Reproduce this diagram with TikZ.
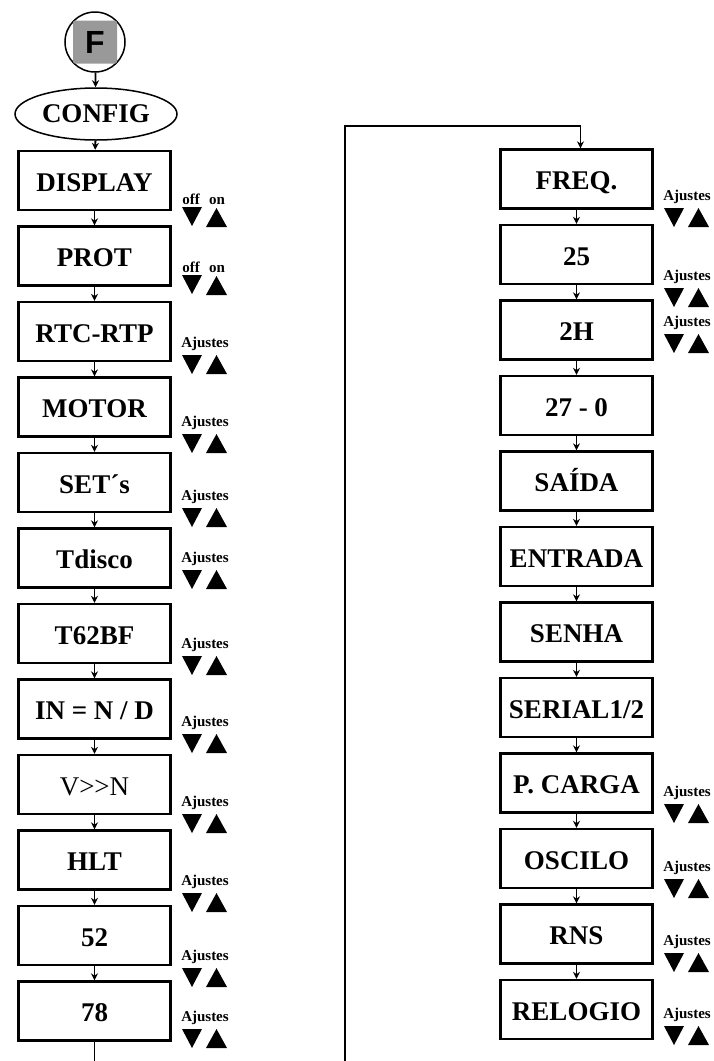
\documentclass[tikz,border=0pt]{standalone}
\usepackage{fontspec}
\setmainfont{Liberation Serif}
\newfontfamily\keyfont{Liberation Sans}
\usetikzlibrary{shapes.geometric,arrows.meta}

\tikzset{
  menubox/.style={draw, line width=2.4pt, minimum width=152pt, minimum height=59pt,
    inner sep=0pt, text height=21pt, text depth=0pt, font=\fontsize{27}{30}\selectfont\bfseries},
  flow/.style={line width=1.8pt, -{Stealth[length=7pt,width=7pt]}},
  ajtext/.style={inner sep=0pt, font=\fontsize{15}{16}\selectfont\bfseries},
}

% label "Ajustes" with the two keys below it
\newcommand{\ajuste}[1]{%
  \node[ajtext] at (#1) {Ajustes};
  \fill (#1) ++(-23,11) -- ++(20,0) -- ++(-10,19) -- cycle;
  \fill (#1) ++(1,30) -- ++(21,0) -- ++(-10.5,-19) -- cycle;
}
% labels "off" / "on" with the two keys below them
\newcommand{\onoff}[1]{%
  \path (#1) ++(-14,5) node[ajtext,anchor=base] {off} ++(26,0) node[ajtext,anchor=base] {on};
  \fill (#1) ++(-23,8) -- ++(20,0) -- ++(-10,19) -- cycle;
  \fill (#1) ++(1,28) -- ++(21,0) -- ++(-10.5,-19) -- cycle;
}

\begin{document}
\begin{tikzpicture}[x=1pt, y=-1pt]
    \useasboundingbox (0,0) rectangle (713,1061);

    % F key and menu entry
    \node[draw, circle, line width=1.5pt, minimum size=60pt, inner sep=0pt] (fkey) at (95,42) {};
    \node[fill=black!40, rounded corners=2pt, minimum width=44pt, minimum height=43pt, inner sep=0pt,
          font=\keyfont\bfseries\fontsize{32}{32}\selectfont] (fbtn) at (fkey) {F};
    \node[draw, ellipse, line width=1.5pt, minimum width=162pt, minimum height=52pt, inner sep=0pt,
          font=\fontsize{27}{30}\selectfont\bfseries] (config) at (96,114) {CONFIG};

    % Left column
    \node[menubox] (disp)   at (94.5,180.5) {DISPLAY};
    \node[menubox] (prot)   at (94.5,256)   {PROT};
    \node[menubox] (rtc)    at (94.5,331.5) {RTC-RTP};
    \node[menubox] (motor)  at (94.5,407)   {MOTOR};
    \node[menubox] (sets)   at (94.5,482.5) {SET´s};
    \node[menubox] (tdisco) at (94.5,558)   {Tdisco};
    \node[menubox] (tbf)    at (94.5,633.5) {T62BF};
    \node[menubox] (innd)   at (94.5,709)   {IN = N / D};
    \node[menubox] (vn)     at (94.5,784.5) {\mdseries V>{}>N};
    \node[menubox] (hlt)    at (94.5,860)   {HLT};
    \node[menubox] (n52)    at (94.5,935.5) {52};
    \node[menubox] (n78)    at (94.5,1011)  {78};

    % Right column
    \node[menubox] (freq)    at (576.5,179)   {FREQ.};
    \node[menubox] (n25)     at (576.5,254.5) {25};
    \node[menubox] (h2)      at (576.5,330)   {2H};
    \node[menubox] (n270)    at (576.5,405.5) {27 - 0};
    \node[menubox] (saida)   at (576.5,481)   {SAÍDA};
    \node[menubox] (entrada) at (576.5,556.5) {ENTRADA};
    \node[menubox] (senha)   at (576.5,632)   {SENHA};
    \node[menubox] (serial)  at (576.5,707.5) {SERIAL1/2};
    \node[menubox] (pcarga)  at (576.5,783)   {P. CARGA};
    \node[menubox] (oscilo)  at (576.5,858.5) {OSCILO};
    \node[menubox] (rns)     at (576.5,934)   {RNS};
    \node[menubox] (relogio) at (576.5,1009.5){RELOGIO};

    % Flow, left
    \draw[flow] (fkey) -- (config);
    \draw[flow] (config) -- (disp);
    \draw[flow] (disp) -- (prot);
    \draw[flow] (prot) -- (rtc);
    \draw[flow] (rtc) -- (motor);
    \draw[flow] (motor) -- (sets);
    \draw[flow] (sets) -- (tdisco);
    \draw[flow] (tdisco) -- (tbf);
    \draw[flow] (tbf) -- (innd);
    \draw[flow] (innd) -- (vn);
    \draw[flow] (vn) -- (hlt);
    \draw[flow] (hlt) -- (n52);
    \draw[flow] (n52) -- (n78);

    % Link to the right column
    \coordinate (tailL) at (94.5,1061);
    \coordinate (loopB) at (345,1061);
    \coordinate (loopT) at (345,126);
    \draw[line width=1.8pt] (n78) -- (tailL);
    \draw[flow] (loopB) -- (loopT) -| ([xshift=4pt]freq.north);

    % Flow, right
    \draw[flow] (freq) -- (n25);
    \draw[flow] (n25) -- (h2);
    \draw[flow] (h2) -- (n270);
    \draw[flow] (n270) -- (saida);
    \draw[flow] (saida) -- (entrada);
    \draw[flow] (entrada) -- (senha);
    \draw[flow] (senha) -- (serial);
    \draw[flow] (serial) -- (pcarga);
    \draw[flow] (pcarga) -- (oscilo);
    \draw[flow] (oscilo) -- (rns);
    \draw[flow] (rns) -- (relogio);

    % Keys, left
    \onoff{205,199}
    \onoff{205,267}
    \ajuste{205,344}
    \ajuste{205,423}
    \ajuste{205,497}
    \ajuste{205,559}
    \ajuste{205,645}
    \ajuste{205,723}
    \ajuste{205,803}
    \ajuste{205,882}
    \ajuste{205,957}
    \ajuste{205,1018}

    % Keys, right
    \ajuste{687,197}
    \ajuste{687,277}
    \ajuste{687,323}
    \ajuste{687,793}
    \ajuste{687,868}
    \ajuste{687,942}
    \ajuste{687,1015}
\end{tikzpicture}
\end{document}
